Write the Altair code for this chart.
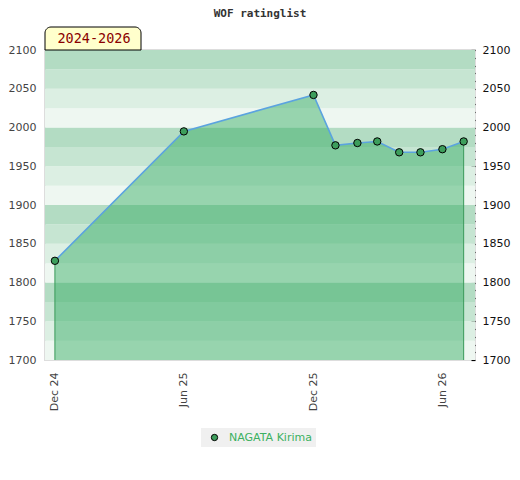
import altair as alt
import pandas as pd

# ---- data ----
dates = ["2024-12-01T00:00:00", "2025-06-01T00:00:00", "2025-12-01T00:00:00",
         "2026-01-01T00:00:00", "2026-02-01T00:00:00", "2026-03-01T00:00:00",
         "2026-04-01T00:00:00", "2026-05-01T00:00:00", "2026-06-01T00:00:00",
         "2026-07-01T00:00:00"]
ratings = [1828, 1995, 2042, 1977, 1980, 1982, 1968, 1968, 1972, 1982]
player = "NAGATA Kirima"
period_label = "2024-2026"
title_text = "WOF ratinglist"

stripe_lo = list(range(1700, 2100, 25))
stripe_palette = ["#eef7f1", "#dcefe3", "#c6e5d2", "#b3dcc3"]

df = pd.DataFrame({"date": dates, "rating": ratings, "name": [player] * len(dates)})
ends = df.iloc[[0, -1]].reset_index(drop=True)
stripes = pd.DataFrame({
    "lo": stripe_lo,
    "hi": [v + 25 for v in stripe_lo],
    "color": [stripe_palette[i % 4] for i in range(len(stripe_lo))],
})
label_df = pd.DataFrame({"label": [period_label], "title": [title_text]})

x_domain = [alt.DateTime(year=2024, month=11, date=17),
            alt.DateTime(year=2026, month=7, date=17)]
x_ticks = [alt.DateTime(year=2024, month=12, date=1),
           alt.DateTime(year=2025, month=6, date=1),
           alt.DateTime(year=2025, month=12, date=1),
           alt.DateTime(year=2026, month=6, date=1)]
y_dom = [1700, 2100]

xs = alt.Scale(domain=x_domain)
ys = alt.Scale(domain=y_dom, nice=False, zero=False)

stripe_layer = alt.Chart(stripes).mark_rect().encode(
    y=alt.Y("lo:Q", scale=ys, title=None,
            axis=alt.Axis(values=list(range(1700, 2101, 50)), format="d", domain=False,
                          ticks=False, grid=False, labelPadding=9, labelColor="#444",
                          labelFontSize=11, labelFont="DejaVu Sans")),
    y2="hi:Q",
    color=alt.Color("color:N", scale=None),
)

area = alt.Chart(df).mark_area(color="#2faa5f", opacity=0.46).encode(
    x=alt.X("date:T", scale=xs, title=None,
            axis=alt.Axis(values=x_ticks, format="%b %y", labelAngle=270, ticks=False,
                          domain=False, grid=False, labelPadding=12, labelColor="#444",
                          labelFontSize=11, labelFont="DejaVu Sans")),
    y=alt.Y("rating:Q", scale=ys, axis=None),
    y2=alt.Y2(datum=1700),
)

edges = alt.Chart(ends).mark_rule(color="#3a9a5a", strokeWidth=1).encode(
    x=alt.X("date:T", scale=xs),
    y=alt.Y("rating:Q", scale=ys, axis=None),
    y2=alt.Y2(datum=1700),
)

line = alt.Chart(df).mark_line(color="#5ba3df", strokeWidth=1.6).encode(
    x=alt.X("date:T", scale=xs),
    y=alt.Y("rating:Q", scale=ys,
            axis=alt.Axis(orient="right", values=list(range(1700, 2101, 10)), format="d",
                          labelExpr="datum.value % 50 == 0 ? datum.label : ''",
                          domain=False, grid=False, tickSize=4, offset=-4, tickColor="#000",
                          tickWidth=1.2, labelPadding=7, labelColor="#111", labelFontSize=11,
                          labelFont="DejaVu Sans", title=None)),
)

points = alt.Chart(df).mark_point(filled=True, size=55, stroke="#000", strokeWidth=1,
                                  opacity=1, shape="circle").encode(
    x=alt.X("date:T", scale=xs),
    y=alt.Y("rating:Q", scale=ys, axis=None),
    color=alt.Color("name:N", scale=alt.Scale(domain=[player], range=["#3d9e5c"]),
                    legend=alt.Legend(title=None, orient="none", legendX=156, legendY=378,
                                      fillColor="#f0f0f0", padding=4, symbolOffset=4,
                                      labelOffset=9, symbolSize=40, symbolStrokeColor="#000",
                                      symbolStrokeWidth=1, labelColor="#3cb060",
                                      labelFontSize=11, labelFont="DejaVu Sans")),
)

box = alt.Chart(label_df).mark_rect(fill="#ffffcc", stroke="#000", strokeWidth=1,
                                    cornerRadiusTopLeft=6, cornerRadiusTopRight=6).encode(
    x=alt.value(0), x2=alt.value(96), y=alt.value(-23), y2=alt.value(0),
)
box_text = alt.Chart(label_df).mark_text(font="DejaVu Sans Mono", fontSize=13.5,
                                         color="#8b0000", align="center",
                                         baseline="middle").encode(
    x=alt.value(49), y=alt.value(-11), text="label:N",
)
title_mark = alt.Chart(label_df).mark_text(font="DejaVu Sans Mono", fontSize=11,
                                           fontWeight="bold", color="#333", align="center",
                                           baseline="middle").encode(
    x=alt.value(215), y=alt.value(-36), text="title:N",
)

chart = alt.layer(stripe_layer, area, edges, line, points, box, box_text,
                  title_mark).resolve_scale(
    y="independent"
).properties(
    width=430, height=310,
    autosize=alt.AutoSizeParams(type="none"),
    padding={"left": 37, "top": 42, "right": 37, "bottom": 112},
).configure_view(stroke="#dddddd", strokeWidth=2)

chart.save("out.html", embed_options={"renderer": "svg", "actions": False})
